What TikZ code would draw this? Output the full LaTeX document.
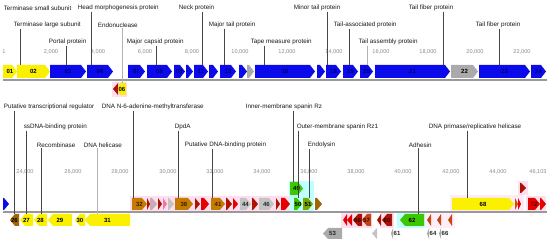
\documentclass[tikz,border=0pt]{standalone}
\usepackage{fontspec}
\setmainfont{Liberation Sans}
\definecolor{gyel}{RGB}{250,240,0}
\definecolor{gblu}{RGB}{10,10,235}
\definecolor{gnavy}{RGB}{0,0,110}
\definecolor{ggry}{RGB}{170,170,170}
\definecolor{glgr}{RGB}{195,195,195}
\definecolor{gbrn}{RGB}{196,124,0}
\definecolor{gdrd}{RGB}{170,20,0}
\definecolor{gred}{RGB}{230,0,0}
\definecolor{gorg}{RGB}{220,70,0}
\definecolor{gpnk}{RGB}{240,120,160}
\definecolor{gmau}{RGB}{200,170,185}
\definecolor{ggrn}{RGB}{60,200,0}
\definecolor{golv}{RGB}{120,170,0}
\definecolor{gobr}{RGB}{160,100,10}
\definecolor{gchv}{RGB}{195,70,20}
\definecolor{hpnk}{RGB}{255,222,240}
\definecolor{hcyn}{RGB}{190,255,255}
\definecolor{numg}{RGB}{140,140,140}
\definecolor{leadc}{RGB}{70,70,70}
\definecolor{tbrn}{RGB}{60,30,0}
\definecolor{tred}{RGB}{60,0,0}
\def\gptr{5}
\newcommand\mkgene[9]{%
  \pgfmathsetmacro\gw{#3-#2}%
  \pgfmathsetmacro\gh{#5-#4}%
  \pgfmathsetmacro\gp{min(\gptr,\gw)}%
  \pgfmathsetmacro\gm{(#4+#5)/2}%
  \pgfmathsetmacro\gc{(#2+#3)/2}%
  \ifnum#6>0
    \fill[#7] (#2,#4) -- ({#3-\gp},#4) -- (#3,\gm) -- ({#3-\gp},#5) -- (#2,#5) -- cycle;
  \else
    \fill[#7] (#3,#4) -- ({#2+\gp},#4) -- (#2,\gm) -- ({#2+\gp},#5) -- (#3,#5) -- cycle;
  \fi
  \node[gl, text=#8, minimum width=\gw pt, minimum height=\gh pt] (#1) at (\gc,\gm) {#9};%
}
\newcommand\leadto[4][lead]{%
  \coordinate (k#3) at (#4,0);
  \draw[#1] (#2.south -| k#3) -- (#3.north -| k#3);%
}
\begin{document}
\begin{tikzpicture}[x=1pt,y=-1pt,
  lab/.style={font=\fontsize{6.3}{7}\selectfont, inner sep=0.6pt, anchor=west, text=black!90},
  num/.style={font=\fontsize{5.6}{6}\selectfont, text=numg, inner sep=0},
  gl/.style={font=\fontsize{6}{7}\selectfont\bfseries, inner sep=0, outer sep=0},
  lead/.style={draw=leadc, line width=0.55pt},
  leadl/.style={draw=black!30, line width=0.55pt},
  base/.style={draw=black!40, line width=1.3pt},
]
\useasboundingbox[fill=white] (0,0) rectangle (550,243);

% highlights
\fill[hpnk] (112,82) rectangle (127,97);
\fill[hpnk] (130,196) rectangle (292,211);
\fill[hcyn] (289,181) rectangle (314,211);
\fill[hpnk] (341,213) rectangle (372,228);
\fill[hpnk] (380,213) rectangle (394,228);
\fill[hcyn] (397,213) rectangle (425,228);
\fill[hpnk!50] (425,213) rectangle (455,228);
\fill[hpnk!60] (450,195) rectangle (524,211);
\fill[hpnk] (518,181) rectangle (528,195);
\fill[hpnk] (526,196) rectangle (546,211);

% baselines
\coordinate (b1) at (3,80);
\coordinate (b2) at (547,80);
\coordinate (b3) at (3,212);
\coordinate (b4) at (547,212);
\draw[base] (b1) -- (b2);
\draw[base] (b3) -- (b4);

% scale numbers, top
\node[num] (n0) at (4,52) {1};
\node[num] (n2) at (51,52) {2,000};
\node[num] (n4) at (98,52) {4,000};
\node[num] (n6) at (145,52) {6,000};
\node[num] (n8) at (192,52) {8,000};
\node[num] (n10) at (240,52) {10,000};
\node[num] (n12) at (287,52) {12,000};
\node[num] (n14) at (334,52) {14,000};
\node[num] (n16) at (381,52) {16,000};
\node[num] (n18) at (428,52) {18,000};
\node[num] (n20) at (475,52) {20,000};
\node[num] (n22) at (522,52) {22,000};
% scale numbers, bottom
\node[num] (n24) at (25,172) {24,000};
\node[num] (n26) at (73,172) {26,000};
\node[num] (n28) at (120,172) {28,000};
\node[num] (n30) at (168,172) {30,000};
\node[num] (n32) at (215,172) {32,000};
\node[num] (n34) at (262,172) {34,000};
\node[num] (n36) at (309,172) {36,000};
\node[num] (n38) at (356,172) {38,000};
\node[num] (n40) at (403,172) {40,000};
\node[num] (n42) at (451,172) {42,000};
\node[num] (n44) at (498,172) {44,000};
\node[num] (n46) at (538,172) {46,103};

% top row genes
\mkgene{g01}{3}{17}{65}{78}{1}{gyel}{black}{01}
\mkgene{g02}{17}{50}{65}{78}{1}{gyel}{black}{02}
\mkgene{g03}{50}{86}{65}{78}{1}{gblu}{gnavy}{03}
\mkgene{g04}{87}{113}{65}{78}{1}{gblu}{gnavy}{04}
\mkgene{g07}{128}{145}{65}{78}{1}{gblu}{gnavy}{07}
\mkgene{g08}{147}{172}{65}{78}{1}{gblu}{gnavy}{08}
\mkgene{g09}{174}{185}{65}{78}{1}{gblu}{gnavy}{09}
\mkgene{g10}{186}{193}{65}{78}{1}{gblu}{gnavy}{}
\mkgene{g11}{194}{208}{65}{78}{1}{gblu}{gnavy}{11}
\mkgene{g12}{209}{218}{65}{78}{1}{gblu}{gnavy}{}
\mkgene{g13}{220}{236}{65}{78}{1}{gblu}{gnavy}{13}
\mkgene{g14}{239}{247}{65}{78}{1}{gblu}{gnavy}{}
\mkgene{g15}{247}{254}{65}{78}{1}{ggry}{black}{}
\mkgene{g16}{255}{315}{65}{78}{1}{gblu}{gnavy}{16}
\mkgene{g17}{317}{325}{65}{78}{1}{gblu}{gnavy}{}
\mkgene{g18}{326}{341}{65}{78}{1}{gblu}{gnavy}{18}
\mkgene{g19}{343}{358}{65}{78}{1}{gblu}{gnavy}{19}
\mkgene{g20}{360}{373}{65}{78}{1}{gblu}{gnavy}{20}
\mkgene{g21}{375}{450}{65}{78}{1}{gblu}{gnavy}{21}
\mkgene{g22}{451}{478}{65}{78}{1}{ggry}{black}{22}
\mkgene{g23}{479}{530}{65}{78}{1}{gblu}{gnavy}{23}
\mkgene{g24}{531}{546}{65}{78}{1}{gblu}{gnavy}{24}
\mkgene{g05}{113}{118}{83}{95}{-1}{gdrd}{black}{}
{\def\gptr{2}\mkgene{g06}{118}{126}{83}{95}{-1}{gyel}{black}{06}}

% bottom row, forward strand
\mkgene{g25}{3}{9}{198}{210}{1}{gblu}{gnavy}{}
\mkgene{g32}{132}{147}{198}{210}{1}{gbrn}{tbrn}{32}
\mkgene{g33}{147}{150}{198}{210}{1}{gdrd}{black}{}
\mkgene{g34}{150}{157}{198}{210}{1}{gmau}{black}{}
\mkgene{g35}{158}{162}{198}{210}{1}{gdrd}{black}{}
\mkgene{g36}{163}{167}{198}{210}{1}{gpnk}{black}{}
\mkgene{g37}{168}{174}{198}{210}{1}{glgr}{black}{}
\mkgene{g38}{175}{193}{198}{210}{1}{gbrn}{tbrn}{38}
\mkgene{g39}{195}{200}{198}{210}{1}{gdrd}{black}{}
\mkgene{g40}{201}{209}{198}{210}{1}{gred}{black}{}
\mkgene{g41}{211}{225}{198}{210}{1}{gbrn}{tbrn}{41}
\mkgene{g42}{226}{232}{198}{210}{1}{gdrd}{black}{}
\mkgene{g43}{233}{238}{198}{210}{1}{gred}{black}{}
\mkgene{g44}{240}{251}{198}{210}{1}{glgr}{black!85}{44}
\mkgene{g45}{252}{258}{198}{210}{1}{gdrd}{black}{}
\mkgene{g46}{259}{274}{198}{210}{1}{glgr}{black!85}{46}
\mkgene{g47}{276}{280}{198}{210}{1}{gdrd}{black}{}
\mkgene{g48}{281}{290}{198}{210}{1}{gred}{black}{}
\mkgene{g50}{294}{302}{198}{210}{1}{ggrn}{black}{50}
\mkgene{g51}{303}{313}{198}{210}{1}{golv}{black}{51}
\mkgene{g52}{315}{322}{198}{210}{1}{gobr}{black}{}
\mkgene{g68}{452}{514}{198}{210}{1}{gyel}{black}{68}
\mkgene{g69}{515}{518}{198}{210}{1}{gorg}{black}{}
\mkgene{g70}{518}{521}{198}{210}{1}{gred}{black}{}
\mkgene{g72}{528}{540}{198}{210}{1}{gred}{tred}{72}
\mkgene{g73}{540}{546}{198}{210}{1}{gred}{black}{}
% upper tier
\mkgene{g49}{290}{303}{182}{195}{1}{ggrn}{black}{49}
\mkgene{g71}{520}{526}{183}{193}{1}{gdrd}{black}{}

% bottom row, reverse strand
\mkgene{g26}{10}{19}{214}{226}{-1}{gobr}{black}{26}
\mkgene{g27}{20}{33}{214}{226}{-1}{gyel}{black}{27}
\mkgene{g28}{34}{47}{214}{226}{-1}{gyel}{black}{28}
\mkgene{g29}{48}{72}{214}{226}{-1}{gyel}{black}{29}
\mkgene{g30}{75}{85}{214}{226}{-1}{gyel}{black}{30}
\mkgene{g31}{85}{130}{214}{226}{-1}{gyel}{black}{31}
\mkgene{g54}{343}{347}{214}{226}{-1}{gred}{black}{}
\mkgene{g55}{347}{352}{214}{226}{-1}{gred}{black}{}
\mkgene{g56}{353}{362}{214}{226}{-1}{gdrd}{tred}{56}
\mkgene{g57}{362}{371}{214}{226}{-1}{gchv}{tred}{57}
\mkgene{g58}{377}{381}{214}{226}{-1}{gdrd}{black}{}
\mkgene{g60}{382}{392}{214}{226}{-1}{gdrd}{tred}{60}
\mkgene{g62}{400}{424}{214}{226}{-1}{ggrn}{black}{62}
\mkgene{g63}{427}{431}{214}{226}{-1}{gchv}{black}{}
\mkgene{g65}{437}{441}{214}{226}{-1}{gchv}{black}{}
\mkgene{g67}{448}{452}{214}{226}{-1}{gchv}{black}{}
% second reverse tier
\mkgene{g53}{323}{342}{228}{239}{-1}{ggry}{black!85}{53}
\mkgene{g59}{372}{377}{228}{239}{-1}{glgr}{black}{}
\mkgene{g61}{391}{393}{228}{239}{-1}{ggry}{black}{}
\node[gl, text=black!85] (t61) at (397,233.5) {61};
\mkgene{g64}{427}{429}{228}{239}{-1}{ggry}{black}{}
\node[gl, text=black!85] (t64) at (433,233.5) {64};
\mkgene{g66}{439}{441}{228}{239}{-1}{ggry}{black}{}
\node[gl, text=black!85] (t66) at (445,233.5) {66};

% labels top
\node[lab] (lTSS) at (3,8) {Terminase small subunit};
\node[lab] (lHMP) at (77,8) {Head morphogenesis protein};
\node[lab] (lNeck) at (178,8) {Neck protein};
\node[lab] (lMinor) at (293,8) {Minor tail protein};
\node[lab] (lTF1) at (408,8) {Tail fiber protein};
\node[lab] (lTLS) at (13,25) {Terminase large subunit};
\node[lab] (lEndo) at (97,25) {Endonuclease};
\node[lab] (lMTP) at (208,25) {Major tail protein};
\node[lab] (lTAP) at (333,25) {Tail-associated protein};
\node[lab] (lTF2) at (475,25) {Tail fiber protein};
\node[lab] (lPortal) at (48,42) {Portal protein};
\node[lab] (lMCP) at (126,42) {Major capsid protein};
\node[lab] (lTape) at (250,42) {Tape measure protein};
\node[lab] (lTAsm) at (358,42) {Tail assembly protein};
% labels bottom
\node[lab] (lPTR) at (3,107) {Putative transcriptional regulator};
\node[lab] (lMT) at (101,107) {DNA N-6-adenine-methyltransferase};
\node[lab] (lRz) at (245,107) {Inner-membrane spanin Rz};
\node[lab] (lSS) at (23,127) {ssDNA-binding protein};
\node[lab] (lDpdA) at (174,127) {DpdA};
\node[lab] (lRz1) at (296,127) {Outer-membrane spanin Rz1};
\node[lab] (lPrim) at (428,127) {DNA primase/replicative helicase};
\node[lab] (lRec) at (36,145) {Recombinase};
\node[lab] (lHel) at (83,145) {DNA helicase};
\node[lab] (lPDB) at (184,145) {Putative DNA-binding protein};
\node[lab] (lEndl) at (307,145) {Endolysin};
\node[lab] (lAdh) at (408,145) {Adhesin};

% leader lines
\leadto{lTLS}{g02}{20}
\leadto{lHMP}{g04}{91}
\leadto{lPortal}{g03}{66}
\leadto[leadl]{lEndo}{g06}{122}
\leadto{lMCP}{g08}{156}
\leadto{lNeck}{g11}{202}
\leadto{lMTP}{g13}{224}
\leadto{lTape}{g16}{264}
\leadto{lMinor}{g18}{327}
\leadto{lTAP}{g19}{349}
\leadto[leadl]{lTAsm}{g20}{367}
\leadto{lTF1}{g21}{443}
\leadto{lTF2}{g23}{499}
\leadto{lPTR}{g26}{14}
\leadto{lSS}{g27}{26}
\leadto{lRec}{g28}{41}
\leadto[leadl]{lHel}{g31}{97}
\leadto{lMT}{g32}{133}
\leadto{lDpdA}{g38}{178}
\leadto{lPDB}{g41}{212}
\leadto{lRz}{g49}{293}
\leadto{lRz1}{g50}{298}
\leadto{lEndl}{g51}{309}
\leadto{lAdh}{g62}{418}
\leadto{lPrim}{g68}{467}
\end{tikzpicture}
\end{document}
